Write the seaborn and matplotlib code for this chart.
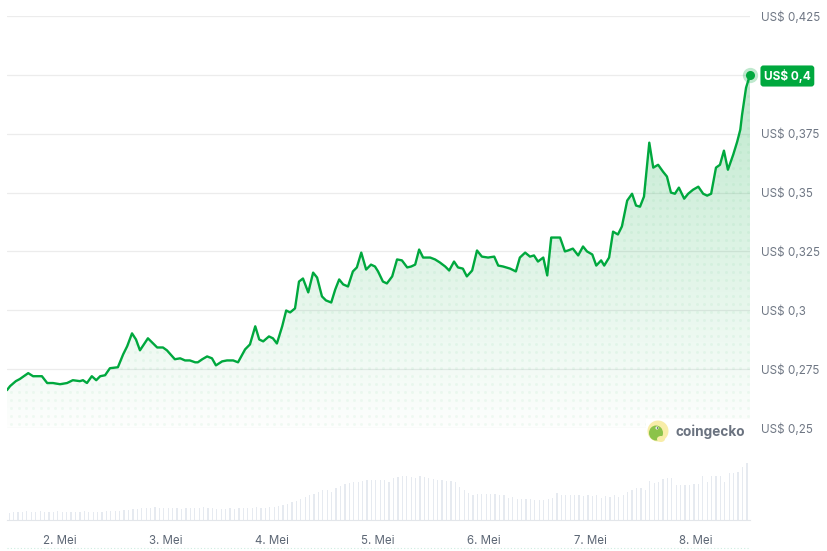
import numpy as np
import pandas as pd
import matplotlib
matplotlib.use('Agg')
import matplotlib.pyplot as plt
import seaborn as sns
from matplotlib.patches import Ellipse, Rectangle
from matplotlib.lines import Line2D
from matplotlib.colors import LinearSegmentedColormap

# hours after 1 May 12:00 and price in USD
hours = [0, 0.7, 2.0, 2.9, 4.8, 5.9, 7.9, 9.1, 10.4, 12.0, 13.6, 14.9, 16.5, 17.2, 18.1,
         19.2, 20.2, 21.1, 22.2, 23.3, 25.1, 26.3, 27.2, 28.3, 29.2, 30.1, 31.9, 34.0,
         35.3, 36.2, 38.0, 39.2, 40.3, 41.4, 42.6, 43.2, 44.2, 45.3, 46.4, 47.3, 48.7,
         49.8, 51.2, 52.3, 53.9, 55.0, 56.2, 57.1, 58.0, 59.3, 60.2, 61.1, 62.3, 63.2,
         64.1, 65.2, 66.1, 67.0, 68.2, 69.3, 70.2, 71.3, 72.2, 73.4, 74.3, 75.2, 76.1,
         77.2, 78.3, 79.2, 80.2, 81.3, 82.4, 83.3, 84.0, 85.1, 86.0, 87.2, 88.3, 89.4,
         90.6, 91.5, 92.4, 93.3, 94.2, 95.8, 96.9, 98.0, 99.2, 100.1, 101.2, 102.1,
         103.2, 104.1, 105.3, 106.4, 107.5, 108.9, 110.3, 111.2, 112.3, 113.9, 115.2,
         116.1, 117.3, 118.4, 119.3, 120.2, 121.4, 122.3, 123.2, 124.3, 125.2, 126.3,
         127.0, 128.1, 129.3, 130.4, 131.3, 132.5, 133.4, 134.5, 135.2, 136.3, 137.2,
         138.3, 139.2, 140.4, 141.5, 142.4, 143.3, 144.2, 145.4, 146.3, 147.4, 148.5,
         149.4, 150.3, 151.2, 152.1, 153.3, 154.2, 155.3, 156.5, 157.6, 158.5, 159.4,
         160.5, 161.4, 162.3, 163.2, 164.4, 165.3, 166.0, 166.4, 167.3, 168.2]
prices = [0.2661, 0.2678, 0.2699, 0.2708, 0.2733, 0.2720, 0.2720, 0.2691, 0.2691, 0.2686,
          0.2691, 0.2703, 0.2699, 0.2703, 0.2691, 0.2720, 0.2703, 0.2720, 0.2724, 0.2754,
          0.2758, 0.2813, 0.2847, 0.2902, 0.2876, 0.2830, 0.2881, 0.2842, 0.2842, 0.2830,
          0.2792, 0.2796, 0.2787, 0.2787, 0.2779, 0.2779, 0.2792, 0.2804, 0.2796, 0.2766,
          0.2783, 0.2787, 0.2787, 0.2779, 0.2834, 0.2855, 0.2932, 0.2876, 0.2868, 0.2889,
          0.2881, 0.2859, 0.2932, 0.2999, 0.2991, 0.3008, 0.3122, 0.3135, 0.3076, 0.3160,
          0.3139, 0.3059, 0.3042, 0.3033, 0.3088, 0.3131, 0.3110, 0.3101, 0.3165, 0.3182,
          0.3245, 0.3173, 0.3194, 0.3186, 0.3165, 0.3122, 0.3114, 0.3144, 0.3216, 0.3212,
          0.3182, 0.3186, 0.3194, 0.3258, 0.3224, 0.3224, 0.3216, 0.3203, 0.3186, 0.3169,
          0.3207, 0.3182, 0.3177, 0.3144, 0.3169, 0.3254, 0.3228, 0.3224, 0.3228, 0.3190,
          0.3186, 0.3177, 0.3165, 0.3224, 0.3245, 0.3228, 0.3233, 0.3207, 0.3224, 0.3148,
          0.3309, 0.3309, 0.3309, 0.3250, 0.3254, 0.3262, 0.3233, 0.3271, 0.3250, 0.3237,
          0.3190, 0.3212, 0.3190, 0.3224, 0.3334, 0.3322, 0.3356, 0.3466, 0.3495, 0.3445,
          0.3440, 0.3483, 0.3712, 0.3606, 0.3618, 0.3589, 0.3568, 0.3500, 0.3495, 0.3521,
          0.3474, 0.3495, 0.3512, 0.3525, 0.3495, 0.3487, 0.3495, 0.3606, 0.3618, 0.3678,
          0.3597, 0.3661, 0.3716, 0.3767, 0.3830, 0.3945, 0.4000]

# hourly volume (relative units, bar heights)
volume = [7, 8, 8, 8, 9, 8, 8, 9, 8, 8, 8, 9, 8, 8, 8, 8, 8, 9, 8, 8, 8, 8, 9, 9, 9, 9,
          10, 10, 11, 11, 12, 12, 12, 13, 12, 12,
          12, 12, 12, 11, 12, 12, 12, 12, 13, 12, 12, 11, 11, 11, 12, 11, 12, 12, 12, 12, 13, 12, 12,
          13, 13, 14, 15, 16, 18, 19, 21,
          23, 25, 26, 28, 30, 30, 28, 32,
          34, 36, 37, 38, 38, 39, 40, 40,
          40, 40, 40, 38, 42, 43, 44, 44, 43, 42, 44,
          43, 42, 41, 40, 40, 39, 39,
          38, 33, 30, 27,
          25, 26, 26, 26, 26, 26, 25, 25,
          22, 23, 21, 21, 21, 21, 20, 20, 20, 21, 22, 27,
          25, 25, 25, 25, 25, 24, 25, 24, 25,
          22, 24, 23, 25, 23, 25,
          28, 30, 32, 32, 30, 39,
          37, 38, 41, 42, 42, 35,
          35, 35, 35, 36, 36, 44,
          38, 44, 44, 44, 38, 47,
          47, 48, 53, 57]

day_labels = ['2. Mei', '3. Mei', '4. Mei', '5. Mei', '6. Mei', '7. Mei', '8. Mei']
day_hours = [12, 36, 60, 84, 108, 132, 156]
y_ticks = [0.25, 0.275, 0.3, 0.325, 0.35, 0.375, 0.4, 0.425]
y_labels = ['US$ 0,25', 'US$ 0,275', 'US$ 0,3', 'US$ 0,325', 'US$ 0,35',
            'US$ 0,375', '', 'US$ 0,425']

GREEN = '#00a83e'
LABEL = '#6f7784'

sns.set_style('white')
plt.rcParams['font.family'] = ['Inter', 'DejaVu Sans']

df = pd.DataFrame({'hour': hours, 'price': prices})
vol = pd.DataFrame({'hour': np.arange(len(volume)) + 0.5, 'volume': volume})

W, H = 827, 551
fig = plt.figure(figsize=(W / 100, H / 100), dpi=100)


def box(l, t, r, b):
    return [l / W, 1 - b / H, (r - l) / W, (b - t) / H]


def disc(cx, cy, w, h, color, z):
    # ellipse given in pixel units of the figure
    fig.patches.append(Ellipse((cx / W, 1 - cy / H), w / W, h / H, transform=fig.transFigure,
                               fc=color, ec='none', zorder=z))


ax = fig.add_axes(box(7, 16, 750, 428))
axv = fig.add_axes(box(7, 440, 750, 520))

x_max = hours[-1]
ax.set_xlim(0, x_max)
ax.set_ylim(0.25, 0.425)

# gradient fill under the line
poly = ax.fill_between(df['hour'], df['price'], 0.25, facecolor='none', edgecolor='none')
cmap = LinearSegmentedColormap.from_list('g', [(0, 0.66, 0.24, 0.01), (0, 0.66, 0.24, 0.26)])
grad = np.linspace(0, 1, 256).reshape(-1, 1)
im = ax.imshow(grad, extent=[0, x_max, 0.25, 0.4], origin='lower', aspect='auto',
               cmap=cmap, zorder=1)
im.set_clip_path(poly.get_paths()[0], transform=ax.transData)

# dotted texture inside the fill
gx, gy = np.meshgrid(np.arange(1, x_max, 1.65), np.arange(0.2515, 0.4, 0.0034))
dots = ax.scatter(gx.ravel(), gy.ravel(), s=4.5, color=GREEN, alpha=0.05, linewidths=0, zorder=1.5)
dots.set_clip_path(poly.get_paths()[0], transform=ax.transData)

sns.lineplot(data=df, x='hour', y='price', ax=ax, color=GREEN, linewidth=1.7, zorder=3)
ax.plot([hours[-1]], [prices[-1]], 'o', ms=11, color=GREEN, alpha=0.25, mec='none',
        zorder=4, clip_on=False)
ax.plot([hours[-1]], [prices[-1]], 'o', ms=6.5, color=GREEN, mec='none', zorder=5,
        clip_on=False)

ax.set_yticks(y_ticks)
ax.set_yticklabels(y_labels)
ax.yaxis.tick_right()
ax.tick_params(axis='y', length=0, pad=8, labelsize=8.4, labelcolor=LABEL)
ax.set_xticks([])
ax.grid(axis='y', color='#ececec', linewidth=0.9)
ax.set_axisbelow(True)
for s in ax.spines.values():
    s.set_visible(False)
ax.set_xlabel('')
ax.set_ylabel('')

fig.text(764 / W, 1 - 76 / H, 'US$ 0,4', color='white', fontsize=8.5, fontweight='bold',
         va='center', ha='left',
         bbox=dict(boxstyle='round,pad=0.3,rounding_size=0.25', fc=GREEN, ec='none'))

# volume bars
axv.bar(vol['hour'], vol['volume'], width=0.28, color='#e6eaf0', linewidth=0)
axv.set_xlim(0, x_max)
axv.set_ylim(0, 80)
axv.set_yticks([])
axv.set_xticks(day_hours)
axv.set_xticklabels(day_labels)
axv.tick_params(axis='x', length=5, width=0.8, color='#e3e6ea', pad=6,
                labelsize=8.3, labelcolor='#5d6775')
for name, s in axv.spines.items():
    s.set_visible(name == 'bottom')
axv.spines['bottom'].set_color('#e3e6ea')

# coingecko watermark
fig.patches.append(Rectangle((646 / W, 1 - 443 / H), 104 / W, 24 / H, transform=fig.transFigure,
                             fc='white', ec='none', zorder=5))
disc(658, 431, 21, 21, '#f8eda8', 6)
disc(656, 433, 14, 15, '#8bc34a', 7)
disc(661, 439, 8, 6, '#f8eda8', 7.5)
disc(657, 428, 3, 3, 'white', 8)
disc(657.4, 428, 1.4, 1.4, '#333333', 8.5)
fig.text(676 / W, 1 - 432 / H, 'coingecko', fontsize=9.8, fontweight='bold', color='#6b7380',
         va='center', ha='left', zorder=9)

# faint dotted rule at the bottom
fig.add_artist(Line2D([7 / W, 750 / W], [1 - 548 / H, 1 - 548 / H], color='#cdeee0',
                      linewidth=0.8, linestyle=(0, (1, 2))))

fig.savefig('out.png', dpi=100, facecolor='white')
